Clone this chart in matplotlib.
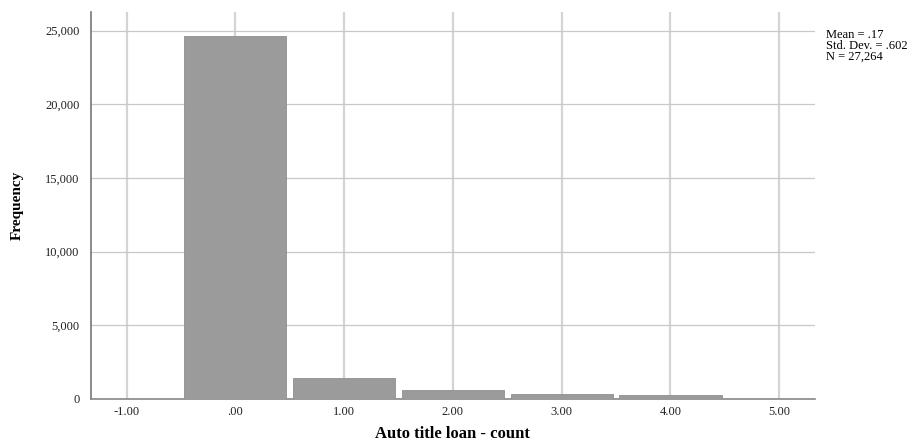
import numpy as np
import matplotlib.pyplot as plt

# histogram of auto title loan counts
counts = [0, 1, 2, 3, 4]
freq = [24650, 1420, 630, 320, 244]
xticks = [-1, 0, 1, 2, 3, 4, 5]
xticklabels = ['-1.00', '.00', '1.00', '2.00', '3.00', '4.00', '5.00']
yticks = [0, 5000, 10000, 15000, 20000, 25000]
stats_text = 'Mean = .17\nStd. Dev. = .602\nN = 27,264'

plt.rcParams['font.family'] = ['Liberation Serif', 'DejaVu Serif']

fig = plt.figure(figsize=(9.22, 4.4), dpi=100)
ax = fig.add_axes([0.0984, 0.0932, 0.7856, 0.8795])

ax.set_axisbelow(True)
ax.grid(axis='x', color='#d4d4d4', linewidth=1.6)
ax.grid(axis='y', color='#c8c8c8', linewidth=0.9)

ax.bar(counts, freq, width=0.94, color='#9b9b9b', edgecolor='#8e8e8e', linewidth=0.6, zorder=3)

ax.set_xlim(-1.33, 5.33)
ax.set_ylim(0, 26270)
ax.set_xticks(xticks)
ax.set_xticklabels(xticklabels)
ax.set_yticks(yticks)
ax.set_yticklabels(['{:,}'.format(v) for v in yticks])
ax.tick_params(length=0, labelsize=9, colors='#222222')
ax.tick_params(axis='y', pad=8)
ax.tick_params(axis='x', pad=5)

for s in ['top', 'right']:
    ax.spines[s].set_visible(False)
ax.spines['left'].set_color('#777777')
ax.spines['bottom'].set_color('#888888')
ax.spines['left'].set_linewidth(1.2)
ax.spines['bottom'].set_linewidth(1.2)

ax.set_xlabel('Auto title loan - count', fontsize=12, fontweight='bold')
ax.xaxis.set_label_coords(0.5, -0.069)
ax.set_ylabel('Frequency', fontsize=11, fontweight='bold')
ax.yaxis.set_label_coords(-0.092, 0.5)

fig.text(0.896, 0.935, stats_text, fontsize=9, va='top', ha='left', linespacing=0.88)

fig.savefig('out.png', dpi=100)
